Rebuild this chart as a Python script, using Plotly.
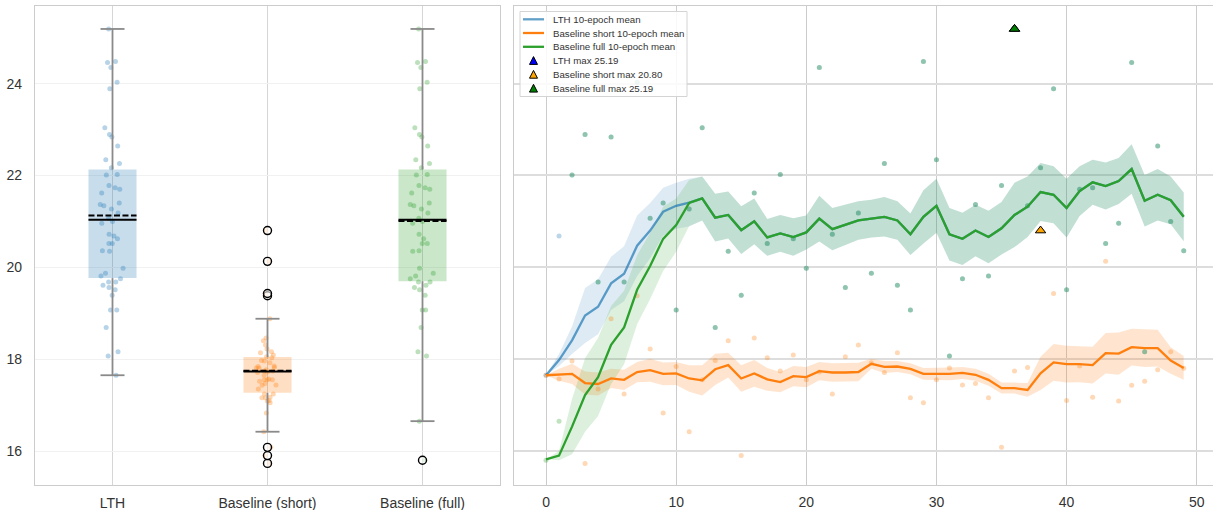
import numpy as np
import plotly.graph_objects as go

# ---------------- data ----------------
epochs = list(range(50))

# per-epoch accuracy of each run
lth_acc = [17.65, 20.68, 22.01, 22.89, 19.68, 22.84, 19.68, 24.03, 21.07, 21.40,
           19.07, 21.27, 23.04, 18.69, 20.35, 19.39, 21.62, 20.52, 22.02, 20.62,
           19.98, 24.35, 20.72, 19.56, 21.18, 19.87, 22.26, 19.61, 19.07, 24.48,
           22.34, 18.07, 19.75, 21.37, 19.81, 21.78, 25.19, 21.34, 22.17, 23.89,
           19.51, 21.70, 21.73, 20.52, 20.96, 24.46, 18.16, 22.64, 21.00, 20.36]
short_acc = [17.65, 17.57, 17.96, 15.73, 17.35, 18.88, 17.24, 19.38, 18.22, 16.83,
             17.84, 16.42, 17.55, 17.97, 18.40, 15.90, 18.46, 18.03, 17.74, 18.09,
             17.55, 17.72, 17.24, 18.05, 18.31, 17.92, 17.71, 18.14, 17.16, 17.05,
             17.55, 17.81, 17.44, 17.47, 17.16, 16.08, 17.74, 17.82, 20.80, 19.43,
             17.10, 17.85, 17.17, 20.13, 17.09, 17.43, 17.52, 17.77, 18.16, 17.80]
full_acc = [15.80, 16.65, 22.01, 22.89, 19.68, 22.84, 19.68, 24.03, 21.07, 21.40,
            19.07, 21.27, 23.04, 18.69, 20.35, 19.39, 21.62, 20.52, 22.02, 20.62,
            19.98, 24.35, 20.72, 19.56, 21.18, 19.87, 22.26, 19.61, 19.07, 24.48,
            22.34, 18.07, 19.75, 21.37, 19.81, 21.78, 25.19, 21.34, 22.17, 23.89,
            19.51, 21.70, 21.73, 20.52, 20.96, 24.46, 18.16, 22.64, 21.00, 20.36]

# 10-epoch means and their spread
lth_mean = [17.65, 17.98, 18.41, 18.95, 19.14, 19.65, 19.86, 20.47, 20.80, 21.21,
            21.34, 21.41, 21.50, 21.08, 21.14, 20.81, 21.00, 20.65, 20.74, 20.66,
            20.76, 21.06, 20.83, 20.92, 21.02, 21.06, 21.10, 21.02, 20.72, 21.10,
            21.34, 20.72, 20.62, 20.80, 20.66, 20.85, 21.14, 21.32, 21.64, 21.58,
            21.29, 21.66, 21.85, 21.77, 21.88, 22.14, 21.45, 21.58, 21.46, 21.10]
short_mean = [17.65, 17.66, 17.68, 17.48, 17.46, 17.58, 17.55, 17.72, 17.76, 17.68,
              17.69, 17.58, 17.54, 17.78, 17.87, 17.58, 17.69, 17.56, 17.50, 17.63,
              17.61, 17.74, 17.71, 17.71, 17.72, 17.90, 17.83, 17.84, 17.79, 17.68,
              17.68, 17.68, 17.70, 17.66, 17.55, 17.37, 17.37, 17.33, 17.69, 17.93,
              17.89, 17.89, 17.87, 18.13, 18.12, 18.26, 18.24, 18.24, 17.97, 17.81]
full_mean = [15.82, 15.90, 16.53, 17.22, 17.61, 18.31, 18.69, 19.51, 20.03, 20.62,
             20.92, 21.40, 21.50, 21.08, 21.14, 20.81, 21.00, 20.65, 20.74, 20.66,
             20.76, 21.06, 20.83, 20.92, 21.02, 21.06, 21.10, 21.02, 20.72, 21.10,
             21.34, 20.72, 20.62, 20.80, 20.66, 20.85, 21.14, 21.32, 21.64, 21.58,
             21.29, 21.66, 21.85, 21.77, 21.88, 22.14, 21.45, 21.58, 21.46, 21.10]

lth_spread = [0.0, 0.13, 0.30, 0.60, 0.60, 0.58, 0.60, 0.66, 0.60, 0.52,
              0.50, 0.52, 0.48, 0.52, 0.51, 0.52, 0.50, 0.40, 0.40, 0.41,
              0.37, 0.50, 0.46, 0.44, 0.42, 0.41, 0.43, 0.42, 0.45, 0.58,
              0.59, 0.57, 0.57, 0.56, 0.57, 0.57, 0.70, 0.66, 0.63, 0.62,
              0.64, 0.54, 0.49, 0.51, 0.50, 0.54, 0.56, 0.56, 0.52, 0.53]
short_spread = [0.0, 0.13, 0.22, 0.25, 0.25, 0.21, 0.22, 0.22, 0.25, 0.25,
                0.25, 0.29, 0.33, 0.34, 0.27, 0.29, 0.29, 0.25, 0.22, 0.22,
                0.22, 0.20, 0.20, 0.20, 0.20, 0.11, 0.13, 0.12, 0.12, 0.13,
                0.13, 0.14, 0.13, 0.13, 0.13, 0.12, 0.12, 0.15, 0.36, 0.40,
                0.40, 0.39, 0.40, 0.44, 0.46, 0.40, 0.41, 0.40, 0.29, 0.26]
full_spread = [0.0, 0.10, 0.60, 0.80, 0.85, 0.85, 0.80, 0.75, 0.72, 0.70,
               0.58, 0.50, 0.48, 0.52, 0.51, 0.52, 0.50, 0.40, 0.40, 0.41,
               0.37, 0.50, 0.46, 0.44, 0.42, 0.41, 0.43, 0.42, 0.45, 0.58,
               0.59, 0.57, 0.57, 0.56, 0.57, 0.57, 0.70, 0.66, 0.63, 0.62,
               0.64, 0.54, 0.49, 0.51, 0.50, 0.54, 0.56, 0.56, 0.52, 0.53]

group_labels = ["LTH", "Baseline (short)", "Baseline (full)"]
y_ticks = [16, 18, 20, 22, 24]
x_ticks = [0, 10, 20, 30, 40, 50]

# ---------------- styling ----------------
BLUE = (31, 119, 180)
ORANGE = (255, 127, 14)
GREEN = (44, 160, 44)
FONT = "Liberation Sans, Arial, sans-serif"

W, H = 1213, 510
ML, MR, MT, MB = 35, 0, 6, 25
PW = W - ML - MR
PH = H - MT - MB


def rgba(c, a):
    return f"rgba({c[0]},{c[1]},{c[2]},{a})"


def px_x(px):
    """Horizontal pixel position -> paper fraction."""
    return (px - ML) / PW


def px_y(py):
    """Vertical pixel position (from top) -> paper fraction."""
    return 1 - (py - MT) / PH


def box_stats(values):
    v = np.asarray(values, dtype=float)
    q1, med, q3 = np.percentile(v, [25, 50, 75])
    iqr = q3 - q1
    lo_f, hi_f = q1 - 1.5 * iqr, q3 + 1.5 * iqr
    inside = v[(v >= lo_f) & (v <= hi_f)]
    return dict(q1=q1, med=med, q3=q3, lo=inside.min(), hi=inside.max(),
                mean=v.mean(), fliers=v[(v < lo_f) | (v > hi_f)])


fig = go.Figure()

# ---------------- left panel: box plots ----------------
groups = [(lth_acc, BLUE), (short_acc, ORANGE), (full_acc, GREEN)]
stats = [box_stats(g[0]) for g in groups]
BOX_W = 0.31
CAP_W = 0.155

fig.add_trace(go.Bar(
    x=[0, 1, 2], y=[s["q3"] - s["q1"] for s in stats], base=[s["q1"] for s in stats],
    width=BOX_W, marker=dict(color=[rgba(c, 0.25) for _, c in groups], line=dict(width=0)),
    xaxis="x", yaxis="y", showlegend=False, hoverinfo="skip"))

wx, wy = [], []
for k, s in enumerate(stats):
    wx += [k, k, None, k, k, None, k - CAP_W / 2, k + CAP_W / 2, None, k - CAP_W / 2, k + CAP_W / 2, None]
    wy += [s["q3"], s["hi"], None, s["q1"], s["lo"], None, s["hi"], s["hi"], None, s["lo"], s["lo"], None]
fig.add_trace(go.Scatter(x=wx, y=wy, mode="lines", line=dict(color="#8a8a8a", width=1.8),
                         xaxis="x", yaxis="y", showlegend=False, hoverinfo="skip"))

for k, (vals, col) in enumerate(groups):
    fig.add_trace(go.Box(
        y=vals, x0=k, width=BOX_W, boxpoints="all", jitter=0.55, pointpos=0,
        fillcolor="rgba(0,0,0,0)", line=dict(width=0, color="rgba(0,0,0,0)"), whiskerwidth=0,
        marker=dict(size=5, color=rgba(col, 0.32)),
        xaxis="x", yaxis="y", showlegend=False, hoverinfo="skip"))

mx, my, ax_, ay = [], [], [], []
for k, s in enumerate(stats):
    mx += [k - BOX_W / 2, k + BOX_W / 2, None]
    my += [s["med"], s["med"], None]
    ax_ += [k - BOX_W / 2, k + BOX_W / 2, None]
    ay += [s["mean"], s["mean"], None]
fig.add_trace(go.Scatter(x=mx, y=my, mode="lines", line=dict(color="black", width=2),
                         xaxis="x", yaxis="y", showlegend=False, hoverinfo="skip"))
fig.add_trace(go.Scatter(x=ax_, y=ay, mode="lines", line=dict(color="black", width=2, dash="6px,2.5px"),
                         xaxis="x", yaxis="y", showlegend=False, hoverinfo="skip"))

fx, fy = [], []
for k, s in enumerate(stats):
    fx += [k] * len(s["fliers"])
    fy += list(s["fliers"])
fig.add_trace(go.Scatter(x=fx, y=fy, mode="markers",
                         marker=dict(symbol="circle", size=8, color="rgba(255,255,255,0.6)",
                                     line=dict(width=1.4, color="black")),
                         xaxis="x", yaxis="y", showlegend=False, hoverinfo="skip"))

# ---------------- right panel: training curves ----------------
series = [
    ("LTH", lth_acc, lth_mean, lth_spread, BLUE, 0.15, rgba(BLUE, 0.7), "blue"),
    ("Baseline short", short_acc, short_mean, short_spread, ORANGE, 0.2, rgba(ORANGE, 1), "orange"),
    ("Baseline full", full_acc, full_mean, full_spread, GREEN, 0.16, rgba(GREEN, 1), "green"),
]

for name, acc, mean, spread, col, alpha, lc, mc in series:
    m = np.asarray(mean)
    sp = np.asarray(spread)
    fig.add_trace(go.Scatter(x=epochs, y=m - sp, mode="lines", line=dict(width=0),
                             xaxis="x2", yaxis="y2", showlegend=False, hoverinfo="skip"))
    fig.add_trace(go.Scatter(x=epochs, y=m + sp, mode="lines", line=dict(width=0),
                             fill="tonexty", fillcolor=rgba(col, alpha),
                             xaxis="x2", yaxis="y2", showlegend=False, hoverinfo="skip"))

for name, acc, mean, spread, col, alpha, lc, mc in series:
    fig.add_trace(go.Scatter(x=epochs, y=acc, mode="markers",
                             marker=dict(size=5, color=rgba(col, 0.3)),
                             xaxis="x2", yaxis="y2", showlegend=False, hoverinfo="skip"))

for name, acc, mean, spread, col, alpha, lc, mc in series:
    fig.add_trace(go.Scatter(x=epochs, y=mean, mode="lines", line=dict(color=lc, width=2.3),
                             name=f"{name} 10-epoch mean", xaxis="x2", yaxis="y2",
                             showlegend=False))

max_labels = []
for name, acc, mean, spread, col, alpha, lc, mc in series:
    i = int(np.argmax(acc))
    max_labels.append(f"{name} max {acc[i]:.2f}")
    fig.add_trace(go.Scatter(x=[epochs[i]], y=[acc[i]], mode="markers",
                             marker=dict(symbol="triangle-up", size=9, color=mc,
                                         line=dict(color="black", width=1)),
                             name=max_labels[-1], xaxis="x2", yaxis="y2", showlegend=False))

# ---------------- legend (compact, drawn as shapes + text) ----------------
shapes = []
annotations = []
LEG_X0, LEG_X1, LEG_Y0, LEG_Y1 = 520, 687, 11.5, 96.5
shapes.append(dict(type="rect", xref="paper", yref="paper",
                   x0=px_x(LEG_X0), x1=px_x(LEG_X1), y0=px_y(LEG_Y1), y1=px_y(LEG_Y0),
                   fillcolor="rgba(255,255,255,0.85)", line=dict(color="#d4d4d4", width=1),
                   layer="above"))
entry_y = [19.3, 33.0, 46.8, 60.8, 74.6, 88.5]
entries = [("line", lc, f"{name} 10-epoch mean") for name, _, _, _, _, _, lc, _ in series]
entries += [("tri", s[7], lab) for s, lab in zip(series, max_labels)]
for (kind, col, label), ey in zip(entries, entry_y):
    if kind == "line":
        shapes.append(dict(type="line", xref="paper", yref="paper",
                           x0=px_x(523), x1=px_x(544), y0=px_y(ey), y1=px_y(ey),
                           line=dict(color=col, width=2.3), layer="above"))
    else:
        shapes.append(dict(type="path", xref="paper", yref="paper",
                           xsizemode="pixel", ysizemode="pixel",
                           xanchor=px_x(533.5), yanchor=px_y(ey),
                           path="M -4,-3.6 L 4,-3.6 L 0,4.2 Z",
                           fillcolor=col, line=dict(color="black", width=1), layer="above"))
    annotations.append(dict(text=label, xref="paper", yref="paper",
                            x=px_x(550.5), y=px_y(ey), xanchor="left", yanchor="middle",
                            showarrow=False, font=dict(size=9.7, color="#333333", family=FONT)))

# ---------------- layout ----------------
left_end = (500 - ML) / PW
right_start = (514 - ML) / PW
y_range = [15.26, 25.69]

axis_common = dict(showline=True, mirror=True, linecolor="#cccccc", linewidth=1.2,
                   zeroline=False, ticks="", tickfont=dict(size=14, color="#333333"))

fig.update_layout(
    width=W, height=H,
    margin=dict(l=ML, r=MR, t=MT, b=MB),
    paper_bgcolor="white", plot_bgcolor="white",
    font=dict(family=FONT, size=14, color="#333333"),
    barmode="overlay", boxmode="overlay",
    xaxis=dict(domain=[0, left_end], range=[-0.5, 2.5], type="linear",
               tickvals=[0, 1, 2], ticktext=group_labels,
               showgrid=True, gridcolor="#d6d6d6", gridwidth=1, ticklabelstandoff=5,
               **axis_common),
    yaxis=dict(range=y_range, tickvals=y_ticks, showgrid=True, gridcolor="#f1f1f1",
               gridwidth=1, ticklabelstandoff=9, **axis_common),
    xaxis2=dict(domain=[right_start, 1], range=[-2.46, 51.25], tickvals=x_ticks,
                anchor="y2", showgrid=True, gridcolor="#cccccc", gridwidth=1,
                ticklabelstandoff=4, **axis_common),
    yaxis2=dict(range=y_range, anchor="x2", matches="y", showticklabels=False,
                tickvals=y_ticks, showgrid=True, gridcolor="#dddddd", gridwidth=1.6,
                **axis_common),
    shapes=shapes,
    annotations=annotations,
    showlegend=False,
)

fig.write_html("out.html")
